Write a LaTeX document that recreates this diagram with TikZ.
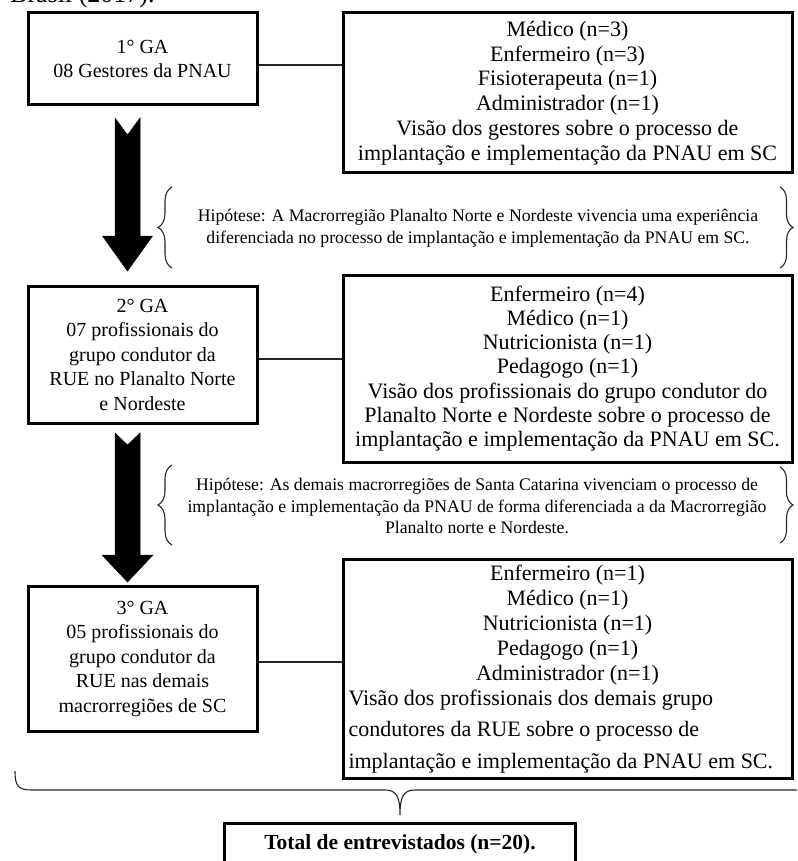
\documentclass[tikz,border=0pt]{standalone}
\usepackage{fontspec}
\setmainfont{Liberation Serif}
\usetikzlibrary{decorations.pathreplacing,calc}
\begin{document}
\begin{tikzpicture}[x=1pt,y=-1pt,
  box/.style={draw, line width=3pt, align=center, inner sep=0pt},
  gabox/.style={box, minimum width=229pt, font=\fontsize{20pt}{24.5pt}\selectfont},
  rbox/.style={box, minimum width=449pt, font=\fontsize{22pt}{24.7pt}\selectfont},
  hyp/.style={align=center, inner sep=0pt, font=\fontsize{17.7pt}{21.5pt}\selectfont},
  conn/.style={draw=black!85, line width=1.2pt},
  blockarrow/.style={fill=black, draw=black, line width=0.5pt},
  curly/.style={draw=black!85, line width=1.1pt},
  bracel/.style={curly, decorate, decoration={brace, amplitude=14pt}},
]
\clip (0,0) rectangle (797,861);

% caption line running in from above
\node[anchor=base west, inner sep=0pt, font=\fontsize{26pt}{30pt}\selectfont] (cap) at (10,3) {Brasil (2017).};

% study groups (left column)
\node[gabox, minimum height=92pt]  (g1) at (142.5,59)    {1° GA\\08 Gestores da PNAU};
\node[gabox, minimum height=137pt] (g2) at (142.5,354.5) {2° GA\\07 profissionais do\\grupo condutor da\\RUE no Planalto Norte\\e Nordeste};
\node[gabox, minimum height=145pt] (g3) at (142.5,658.5) {3° GA\\05 profissionais do\\grupo condutor da\\RUE nas demais\\macrorregiões de SC};

% composition of each group (right column)
\node[rbox, minimum height=160pt] (r1) at (567.5,93) {Médico (n=3)\\Enfermeiro (n=3)\\Fisioterapeuta (n=1)\\Administrador (n=1)\\Visão dos gestores sobre o processo de\\implantação e implementação da PNAU em SC};
\node[rbox, minimum height=187pt, font=\fontsize{22pt}{24.2pt}\selectfont] (r2) at (567.5,368.5) {Enfermeiro (n=4)\\Médico (n=1)\\Nutricionista (n=1)\\Pedagogo (n=1)\\Visão dos profissionais do grupo condutor do\\Planalto Norte e Nordeste sobre o processo de\\implantação e implementação da PNAU em SC.};
\node[rbox, minimum height=219pt, font=\fontsize{22pt}{25pt}\selectfont] (r3) at (567.5,669) {Enfermeiro (n=1)\\Médico (n=1)\\Nutricionista (n=1)\\Pedagogo (n=1)\\Administrador (n=1)\\
  \parbox[t]{438pt}{\raggedright\baselineskip=31.5pt Visão dos profissionais dos demais grupo\\condutores da RUE sobre o processo de\\implantação e implementação da PNAU em SC.}};

% total
\node[box, minimum width=351pt, minimum height=42pt, font=\fontsize{21.5pt}{24.5pt}\selectfont\bfseries] (tot) at (400,844) {Total de entrevistados (n=20).};

% connectors between each group and its composition
\draw[conn] ([yshift=-6pt]g1.east) -- ([yshift=-6pt]g1.east -| r1.west);
\draw[conn] ([yshift=-4.5pt]g2.east) -- ([yshift=-4.5pt]g2.east -| r2.west);
\draw[conn] ([yshift=-3.5pt]g3.east) -- ([yshift=-3.5pt]g3.east -| r3.west);

% hypotheses
\node[hyp] (h1) at (478,228) {Hipótese: A Macrorregião Planalto Norte e Nordeste vivencia uma experiência\\diferenciada no processo de implantação e implementação da PNAU em SC.};
\node[hyp] (h2) at (477,506) {Hipótese: As demais macrorregiões de Santa Catarina vivenciam o processo de\\implantação e implementação da PNAU de forma diferenciada a da Macrorregião\\Planalto norte e Nordeste.};

\draw[bracel] (172,268) -- (172,187);
\draw[bracel, decoration={amplitude=13pt}] (780,187) -- (780,268);
\draw[bracel] (172,545) -- (172,465);
\draw[bracel, decoration={amplitude=13pt}] (780,467) -- (780,543);

% block arrows between the groups
\fill[blockarrow] (115,118) -- (127.5,135) -- (140,118) -- (140,236) -- (152.5,236)
  -- (127.5,271) -- (102.5,236) -- (115,236) -- cycle;
\fill[blockarrow] (115,433) -- (127.5,445) -- (140,433) -- (140,555) -- (153,555)
  -- (127.5,582) -- (102,555) -- (115,555) -- cycle;

% brace gathering all groups into the total
\draw[curly] (15,771) .. controls (15,786) and (18,790) .. (32,790) -- (385,790)
  .. controls (396,790) and (400,796) .. (400,815)
  .. controls (400,796) and (404,790) .. (415,790) -- (800,790);
\end{tikzpicture}
\end{document}
